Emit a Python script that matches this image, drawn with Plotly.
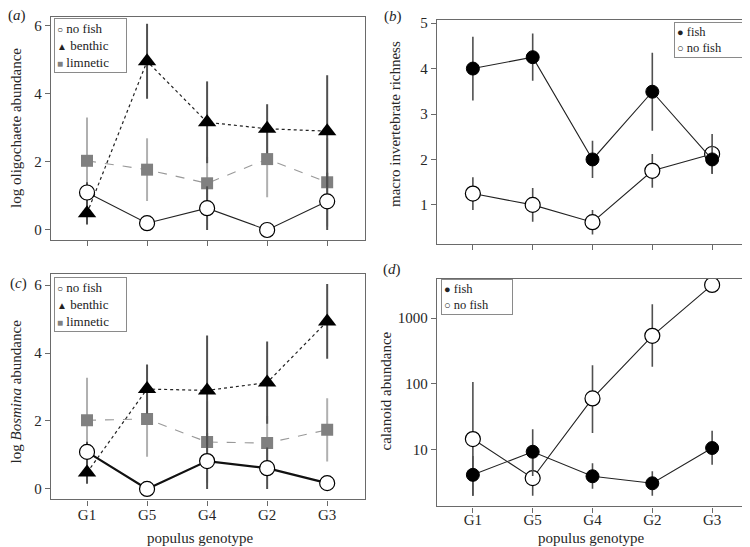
import plotly.graph_objects as go

genotypes = ["G1", "G5", "G4", "G2", "G3"]

# panel (a): log oligochaete abundance
a_nofish = [1.10, 0.20, 0.64, 0.00, 0.84]
a_nofish_err = [0.30, 0.20, 0.64, 0.00, 0.84]
a_benthic = [0.49, 4.95, 3.16, 2.97, 2.90]
a_benthic_err = [0.33, 1.10, 1.20, 0.72, 1.64]
a_limnetic = [2.03, 1.77, 1.37, 2.08, 1.40]
a_limnetic_err = [1.27, 0.92, 0.78, 1.12, 1.30]

# panel (b): macro invertebrate richness
b_fish = [4.00, 4.25, 2.00, 3.49, 2.00]
b_fish_err = [0.70, 0.52, 0.41, 0.86, 0.31]
b_nofish = [1.25, 1.00, 0.62, 1.75, 2.12]
b_nofish_err = [0.36, 0.37, 0.27, 0.37, 0.44]

# panel (c): log Bosmina abundance
c_nofish = [1.09, 0.00, 0.82, 0.61, 0.17]
c_nofish_err = [0.30, 0.00, 0.82, 0.61, 0.17]
c_benthic = [0.48, 2.94, 2.90, 3.13, 4.93]
c_benthic_err = [0.33, 0.72, 1.62, 1.21, 1.10]
c_limnetic = [2.02, 2.06, 1.38, 1.35, 1.74]
c_limnetic_err = [1.25, 1.11, 1.20, 0.80, 0.93]

# panel (d): calanoid abundance (log scale), with upper / lower bounds
d_fish = [4.15, 9.3, 3.95, 3.09, 10.6]
d_fish_hi = [8.0, 20.5, 6.2, 4.7, 19.4]
d_fish_lo = [2.0, 4.0, 2.55, 2.0, 5.9]
d_nofish = [14.5, 3.7, 60.0, 537.0, 3180.0]
d_nofish_hi = [107.0, 9.0, 192.0, 1620.0, 3180.0]
d_nofish_lo = [2.0, 2.0, 17.9, 182.0, 3180.0]

FONT = "Liberation Serif"
DARK = "#505050"
LIGHT = "#b0b0b0"
GREYSQ = "#808080"
FRAME = "#6a6a6a"

fig = go.Figure()


def err(arr, color, thick=2.0, minus=None):
    d = dict(type="data", array=arr, color=color, thickness=thick, width=0, visible=True)
    if minus is not None:
        d["symmetric"] = False
        d["arrayminus"] = minus
    return d


open_circle = dict(symbol="circle", size=15, color="white", line=dict(color="black", width=1.2))
triangle = dict(symbol="triangle-up", size=16, color="black", line=dict(color="black", width=0))
square = dict(symbol="square", size=12, color=GREYSQ, line=dict(width=0))
filled = dict(symbol="circle", size=13, color="black", line=dict(color="black", width=1))

# ---------- panel (a) ----------
fig.add_trace(go.Scatter(x=genotypes, y=a_limnetic, mode="lines+markers", name="limnetic", showlegend=False,
                         line=dict(color="#999999", width=1.1, dash="dash"), marker=square,
                         error_y=err(a_limnetic_err, LIGHT), xaxis="x", yaxis="y"))
fig.add_trace(go.Scatter(x=genotypes, y=a_benthic, mode="lines+markers", name="benthic", showlegend=False,
                         line=dict(color="#222222", width=1.2, dash="dot"), marker=triangle,
                         error_y=err(a_benthic_err, DARK), xaxis="x", yaxis="y"))
fig.add_trace(go.Scatter(x=genotypes, y=a_nofish, mode="lines+markers", name="no fish", showlegend=False,
                         line=dict(color="#222222", width=1.1), marker=open_circle,
                         error_y=err(a_nofish_err, DARK), xaxis="x", yaxis="y"))

# ---------- panel (b) ----------
fig.add_trace(go.Scatter(x=genotypes, y=b_nofish, mode="lines+markers", name="no fish", showlegend=False,
                         line=dict(color="#222222", width=1.1), marker=open_circle,
                         error_y=err(b_nofish_err, DARK, 1.6), xaxis="x2", yaxis="y2"))
fig.add_trace(go.Scatter(x=genotypes, y=b_fish, mode="lines+markers", name="fish", showlegend=False,
                         line=dict(color="#222222", width=1.1), marker=filled,
                         error_y=err(b_fish_err, DARK, 1.6), xaxis="x2", yaxis="y2"))

# ---------- panel (c) ----------
fig.add_trace(go.Scatter(x=genotypes, y=c_limnetic, mode="lines+markers", name="limnetic", showlegend=False,
                         line=dict(color="#999999", width=1.1, dash="dash"), marker=square,
                         error_y=err(c_limnetic_err, LIGHT), xaxis="x3", yaxis="y3"))
fig.add_trace(go.Scatter(x=genotypes, y=c_benthic, mode="lines+markers", name="benthic", showlegend=False,
                         line=dict(color="#222222", width=1.2, dash="dot"), marker=triangle,
                         error_y=err(c_benthic_err, DARK), xaxis="x3", yaxis="y3"))
fig.add_trace(go.Scatter(x=genotypes, y=c_nofish, mode="lines+markers", name="no fish", showlegend=False,
                         line=dict(color="#111111", width=2.2), marker=open_circle,
                         error_y=err(c_nofish_err, DARK), xaxis="x3", yaxis="y3"))

# ---------- panel (d) ----------
d_nofish_up = [h - v for h, v in zip(d_nofish_hi, d_nofish)]
d_nofish_dn = [v - l for v, l in zip(d_nofish, d_nofish_lo)]
d_fish_up = [h - v for h, v in zip(d_fish_hi, d_fish)]
d_fish_dn = [v - l for v, l in zip(d_fish, d_fish_lo)]
fig.add_trace(go.Scatter(x=genotypes, y=d_nofish, mode="lines+markers", name="no fish", showlegend=False,
                         line=dict(color="#222222", width=1.1), marker=open_circle,
                         error_y=err(d_nofish_up, DARK, 1.6, d_nofish_dn), xaxis="x4", yaxis="y4"))
fig.add_trace(go.Scatter(x=genotypes, y=d_fish, mode="lines+markers", name="fish", showlegend=False,
                         line=dict(color="#222222", width=1.1), marker=filled,
                         error_y=err(d_fish_up, DARK, 1.6, d_fish_dn), xaxis="x4", yaxis="y4"))

# page body has an 8px default margin: size the figure to fit the 750x547 window
OFF = 8
W, H = 750 - OFF, 547 - OFF


def px(xp):
    return (xp - OFF) / W


def py(yp):
    return 1 - (yp - OFF) / H


tickfont = dict(family=FONT, size=15, color="#262626")
axis_common = dict(showline=True, mirror=True, linecolor=FRAME, linewidth=1.3, ticks="outside",
                   ticklen=5, tickwidth=1, tickcolor=FRAME, showgrid=False, zeroline=False,
                   tickfont=tickfont)
xcommon = dict(axis_common, type="category", categoryorder="array", categoryarray=genotypes)

fig.update_layout(
    width=W, height=H, margin=dict(l=0, r=0, t=0, b=0),
    paper_bgcolor="white", plot_bgcolor="white", showlegend=False,
    font=dict(family=FONT, size=15, color="#262626"),
    xaxis=dict(xcommon, domain=[px(51), px(365)], range=[-0.6, 4.63], showticklabels=False, anchor="y"),
    yaxis=dict(axis_common, domain=[py(237), py(12)], range=[-0.29, 6.25], tickvals=[0, 2, 4, 6], anchor="x"),
    xaxis2=dict(xcommon, domain=[px(437), px(748)], range=[-0.6, 4.6], showticklabels=False, anchor="y2"),
    yaxis2=dict(axis_common, domain=[py(241), py(15)], range=[0.143, 5.07], tickvals=[1, 2, 3, 4, 5], anchor="x2"),
    xaxis3=dict(xcommon, domain=[px(51), px(365)], range=[-0.6, 4.63], anchor="y3", ticklabelstandoff=-4),
    yaxis3=dict(axis_common, domain=[py(499), py(271)], range=[-0.31, 6.34], tickvals=[0, 2, 4, 6], anchor="x3"),
    xaxis4=dict(xcommon, domain=[px(437), px(748)], range=[-0.6, 4.6], anchor="y4", ticklabelstandoff=-6),
    yaxis4=dict(axis_common, type="log", domain=[py(506), py(276)], range=[0.139, 3.60],
                tickvals=[10, 100, 1000], ticktext=["10", "100", "1000"], anchor="x4"),
)

ann = []
labfont = dict(family=FONT, size=15, color="#262626")
for txt, x, y in [("(<i>a</i>)", 17, 11), ("(<i>b</i>)", 393, 12), ("(<i>c</i>)", 18, 281), ("(<i>d</i>)", 392, 267)]:
    ann.append(dict(text=txt, x=px(x), y=py(y), xref="paper", yref="paper", showarrow=False,
                    xanchor="center", yanchor="middle", font=labfont))
for txt, x, y in [("log oligochaete abundance", 16, 124), ("macro invertebrate richness", 395, 120),
                  ("log <i>Bosmina</i> abundance", 16, 390), ("calanoid abundance", 386, 390)]:
    ann.append(dict(text=txt, x=px(x), y=py(y), xref="paper", yref="paper", showarrow=False,
                    textangle=-90, xanchor="center", yanchor="middle", font=labfont))
for x in (200, 591):
    ann.append(dict(text="populus genotype", x=px(x), y=py(538), xref="paper", yref="paper",
                    showarrow=False, xanchor="center", yanchor="middle", font=labfont))

# legends drawn as boxed text keys
sym_open = '<span style="font-size:10px">○</span>'
sym_tri = '<span style="font-size:10px">▲</span>'
sym_sq = '<span style="font-size:10px;color:#808080">■</span>'
sym_fill = '<span style="font-size:11px">●</span>'
sym_open_b = '<span style="font-size:11px"><b>○</b></span>'
key3 = "<br>".join([f"{sym_open} no fish", f"{sym_tri} benthic", f"{sym_sq} limnetic"])
key2 = "<br>".join([f"{sym_fill} fish", f"{sym_open_b} no fish"])
for txt, x, y, xa, w, fs in [(key3, 54, 13, "left", 67, 13), (key2, 746, 17, "right", 66, 12.5),
                             (key3, 54, 274, "left", 67, 13), (key2, 441, 276, "left", 66, 12.5)]:
    ann.append(dict(text=txt, x=px(x), y=py(y), xref="paper", yref="paper", showarrow=False,
                    xanchor=xa, yanchor="top", align="left", width=w,
                    font=dict(family=FONT, size=fs, color="#222"), bgcolor="white",
                    bordercolor="#8a8a8a", borderwidth=1, borderpad=2))
fig.update_layout(annotations=ann)

fig.write_html("out.html")
